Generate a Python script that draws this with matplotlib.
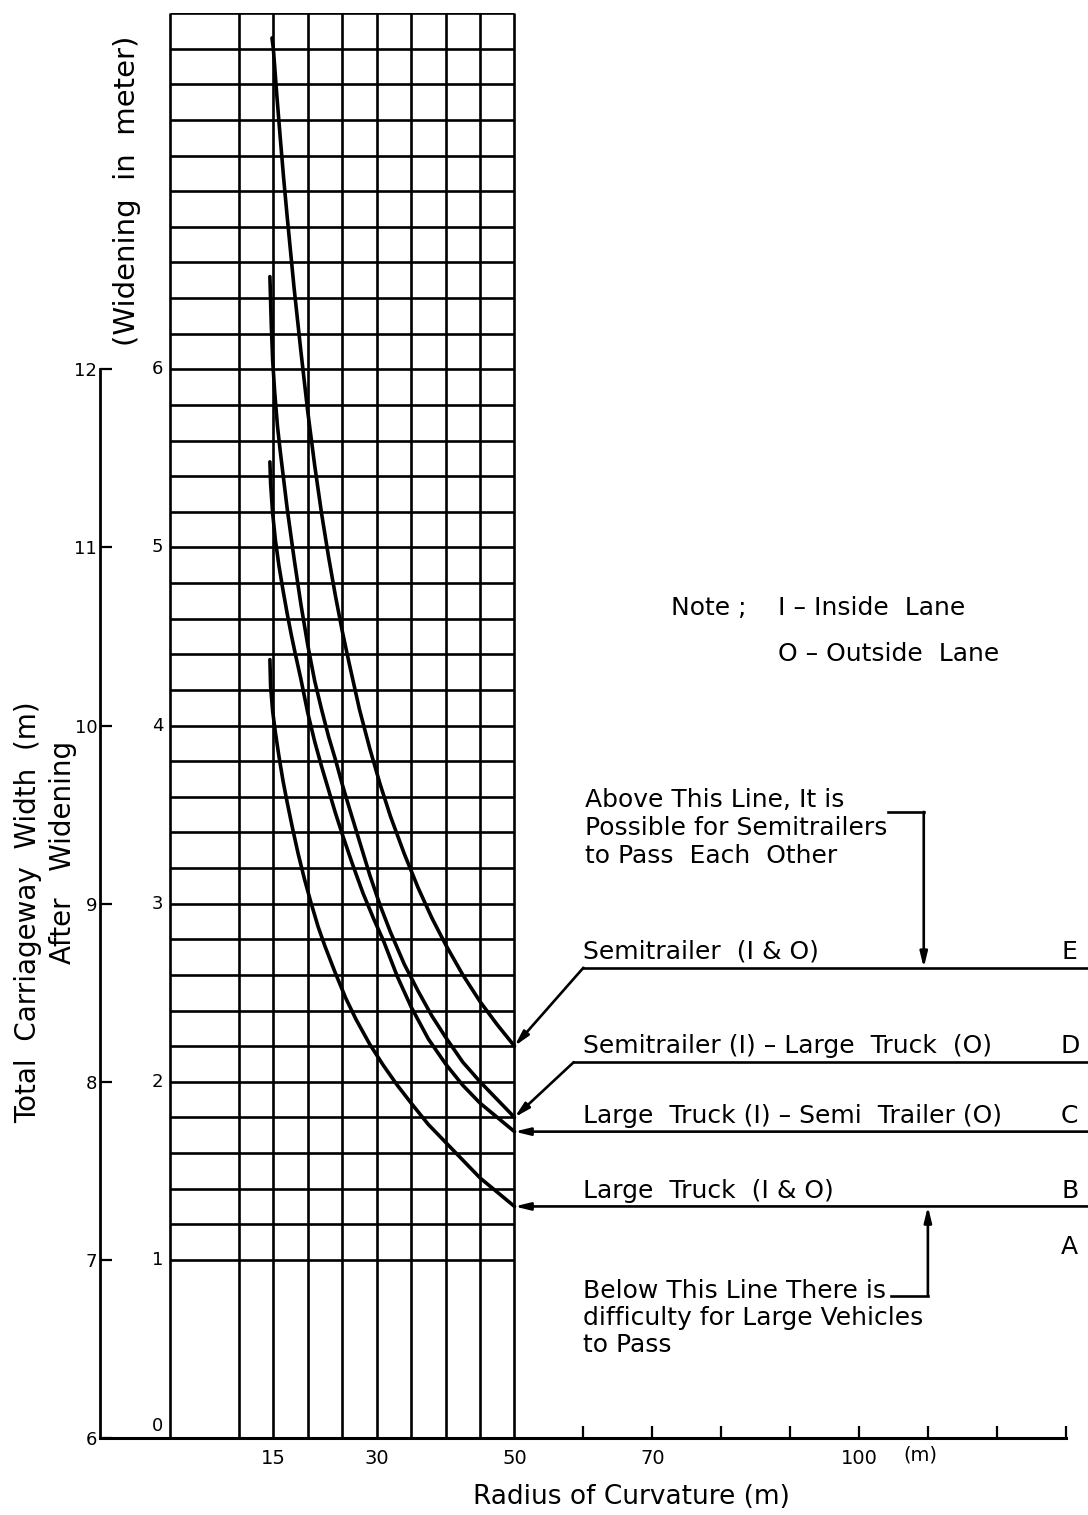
import matplotlib
matplotlib.use("Agg")
import matplotlib.pyplot as plt

plt.rcParams['font.family'] = ['DejaVu Sans']

# Widening (m) against radius of curvature (m) for each pair of passing vehicles
semi_io_R = [14.8, 15.0, 15.5, 16.0, 16.5, 17.0, 17.5, 18.0, 19.0, 20.0,
             21.0, 22.0, 23.0, 24.0, 25.0, 26.0, 27.5, 29.0, 30.5, 32.0,
             34.0, 36.0, 38.0, 40.0, 42.5, 45.0, 47.5, 50.0]
semi_io_W = [7.86, 7.80, 7.54, 7.30, 7.07, 6.86, 6.66, 6.46, 6.10, 5.76,
             5.46, 5.19, 4.95, 4.73, 4.53, 4.35, 4.09, 3.87, 3.67, 3.49,
             3.28, 3.09, 2.92, 2.77, 2.60, 2.45, 2.32, 2.20]

semi_lt_R = [14.5, 14.7, 14.9, 15.2, 15.6, 16.0, 16.5, 17.0, 17.5, 18.0,
             19.0, 20.0, 21.0, 22.0, 23.0, 24.0, 25.0, 26.0, 27.5, 29.0,
             30.5, 32.0, 34.0, 36.0, 38.0, 40.0, 42.5, 45.0, 47.5, 50.0]
semi_lt_W = [6.52, 6.25, 6.05, 5.87, 5.68, 5.54, 5.38, 5.22, 5.08, 4.94,
             4.68, 4.45, 4.25, 4.09, 3.94, 3.81, 3.67, 3.54, 3.35, 3.16,
             2.99, 2.84, 2.66, 2.51, 2.37, 2.25, 2.11, 2.00, 1.90, 1.80]

lt_semi_R = [14.5, 14.6, 14.9, 15.3, 15.8, 16.4, 17.0, 17.6, 18.2, 19.0,
             20.0, 21.0, 22.0, 23.0, 24.0, 25.0, 26.5, 28.0, 29.5, 31.0,
             33.0, 35.0, 37.5, 40.0, 42.5, 45.0, 47.5, 50.0]
lt_semi_W = [5.48, 5.36, 5.19, 5.04, 4.90, 4.76, 4.63, 4.51, 4.40, 4.26,
             4.07, 3.91, 3.77, 3.64, 3.51, 3.39, 3.22, 3.06, 2.92, 2.79,
             2.59, 2.42, 2.24, 2.10, 1.98, 1.88, 1.80, 1.72]

lt_io_R = [14.5, 14.6, 14.9, 15.3, 15.8, 16.4, 17.0, 17.8, 18.6, 19.5,
           20.5, 21.5, 22.5, 24.0, 25.5, 27.0, 29.0, 31.0, 33.0, 35.0,
           37.5, 40.0, 42.5, 45.0, 47.5, 50.0]
lt_io_W = [4.37, 4.22, 4.08, 3.96, 3.83, 3.69, 3.57, 3.42, 3.28, 3.14,
           3.00, 2.87, 2.76, 2.61, 2.47, 2.35, 2.21, 2.09, 1.98, 1.88,
           1.76, 1.66, 1.56, 1.46, 1.38, 1.30]

# Grid of the chart
grid_R = [0, 10, 15, 20, 25, 30, 35, 40, 45, 50]
grid_W = [round(1.0 + 0.2 * i, 1) for i in range(36)]

# Axis ticks
x_tick_vals = [15, 30, 50, 70, 100]
x_tick_labels = ['15', '30', '50', '70', '100']
x_marks = [60, 70, 80, 90, 100, 110, 120, 130]
widening_vals = [0, 1, 2, 3, 4, 5, 6]
total_width_labels = ['6', '7', '8', '9', '10', '11', '12']

# Reference levels (widening, m) of the leader lines E, D, C, B
level_E = 2.64
level_D = 2.11
level_C = 1.72
level_B = 1.30

R_MIN, R_MAX = -10.16, 133.24
W_MIN, W_MAX = 0.0, 8.0

fig = plt.figure(figsize=(10.88, 15.15), dpi=100)
ax = fig.add_axes([100 / 1088, 1 - 1438 / 1515, 988 / 1088, 1425 / 1515])
ax.set_xlim(R_MIN, R_MAX)
ax.set_ylim(W_MIN, W_MAX)

for s in ['top', 'right']:
    ax.spines[s].set_visible(False)
ax.spines['bottom'].set_bounds(R_MIN, 130)
ax.spines['bottom'].set_linewidth(2.2)
ax.spines['left'].set_bounds(0, 6)
ax.spines['left'].set_linewidth(2.0)

# Total carriageway width scale on the left spine
ax.set_yticks(widening_vals, total_width_labels)
ax.tick_params(axis='y', direction='in', length=8.5, width=1.6, pad=2,
               labelsize=13)

# Radius scale on the bottom spine
ax.xaxis.remove_overlapping_locs = False
ax.set_xticks(x_tick_vals, x_tick_labels)
ax.set_xticks(x_marks, minor=True)
ax.tick_params(axis='x', which='major', length=0, pad=8, labelsize=14)
ax.tick_params(axis='x', which='minor', direction='in', length=8.5, width=1.6)

# Grid
ax.vlines(grid_R, 0, W_MAX, colors='black', lw=1.9)
ax.hlines(grid_W, 0, 50, colors='black', lw=1.9)

# Widening scale labels
for w in widening_vals:
    ax.text(-1.0, w + (0.07 if w == 0 else 0), str(w), ha='right', va='center',
            fontsize=13)

# Curves
for R, W in [(semi_io_R, semi_io_W), (semi_lt_R, semi_lt_W),
             (lt_semi_R, lt_semi_W), (lt_io_R, lt_io_W)]:
    ax.plot(R, W, color='black', lw=2.6, solid_capstyle='round',
            solid_joinstyle='round')

arrow_kw = dict(arrowstyle='-|>,head_length=0.9,head_width=0.22', lw=1.9,
                color='black', shrinkA=0, shrinkB=0, mutation_scale=10)

# Leader lines
ax.plot([60, R_MAX], [level_E, level_E], color='black', lw=1.9, clip_on=False)
ax.annotate('', xy=(50, semi_io_W[-1]), xytext=(60, level_E), arrowprops=arrow_kw)
ax.plot([58.6, R_MAX], [level_D, level_D], color='black', lw=1.9, clip_on=False)
ax.annotate('', xy=(50, semi_lt_W[-1]), xytext=(58.6, level_D), arrowprops=arrow_kw)
ax.annotate('', xy=(50, level_C), xytext=(R_MAX, level_C), arrowprops=arrow_kw,
            annotation_clip=False)
ax.annotate('', xy=(50, level_B), xytext=(R_MAX, level_B), arrowprops=arrow_kw,
            annotation_clip=False)

fs = 18
ax.text(60, level_E + 0.05, 'Semitrailer  (I & O)', fontsize=fs, va='baseline')
ax.text(60, level_D + 0.05, 'Semitrailer (I) – Large  Truck  (O)', fontsize=fs, va='baseline')
ax.text(60, level_C + 0.05, 'Large  Truck (I) – Semi  Trailer (O)', fontsize=fs, va='baseline')
ax.text(60, level_B + 0.05, 'Large  Truck  (I & O)', fontsize=fs, va='baseline')
for lab, lev in [('E', level_E), ('D', level_D), ('C', level_C), ('B', level_B)]:
    ax.text(130.6, lev + 0.05, lab, fontsize=fs, ha='center', va='baseline')
ax.text(130.6, 1.07, 'A', fontsize=fs, ha='center', va='center')

# Notes
ax.text(72.7, 4.66, 'Note ;', fontsize=fs, va='center')
ax.text(88.3, 4.66, 'I – Inside  Lane', fontsize=fs, va='center')
ax.text(88.3, 4.40, 'O – Outside  Lane', fontsize=fs, va='center')

ax.text(60.2, 3.425, 'Above This Line, It is\nPossible for Semitrailers\nto Pass  Each  Other',
        fontsize=fs, va='center', linespacing=1.2)
ax.plot([104.2, 109.4], [3.515, 3.515], color='black', lw=1.9)
ax.annotate('', xy=(109.4, level_E), xytext=(109.4, 3.515), arrowprops=arrow_kw)

ax.text(60.0, 0.675, 'Below This Line There is\ndifficulty for Large Vehicles\nto Pass',
        fontsize=fs, va='center', linespacing=1.15)
ax.plot([104.6, 110.0], [0.80, 0.80], color='black', lw=1.9)
ax.annotate('', xy=(110.0, level_B), xytext=(110.0, 0.80), arrowprops=arrow_kw)

# Axis titles
ax.text(-6.24, 7.0, '(Widening  in  meter)', rotation=90, fontsize=21,
        ha='center', va='center')
ax.text(-20.6, 2.95, 'Total  Carriageway  Width  (m)', rotation=90, fontsize=20,
        ha='center', va='center', clip_on=False)
ax.text(-15.5, 3.29, 'After   Widening', rotation=90, fontsize=20,
        ha='center', va='center', clip_on=False)
ax.text(67.0, -0.33, 'Radius of Curvature (m)', fontsize=19, ha='center',
        va='center', clip_on=False)
ax.text(108.9, -0.095, '(m)', fontsize=14, ha='center', va='center', clip_on=False)

fig.savefig('out.png', dpi=100)
